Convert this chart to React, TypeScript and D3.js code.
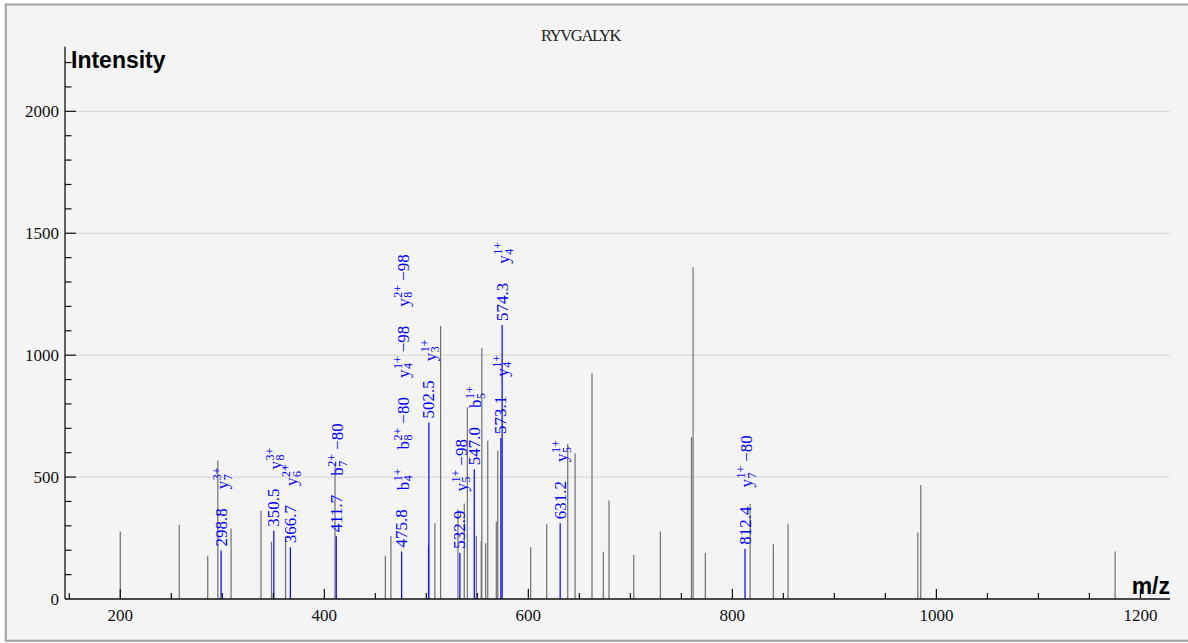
import React, { useEffect, useRef } from 'react';
import * as d3 from 'd3';

// ---------- data ----------
const TITLE = 'RYVGALYK';
const X_LABEL = 'm/z';
const Y_LABEL = 'Intensity';

const X_MAJOR_TICKS = [200, 400, 600, 800, 1000, 1200];
const X_MINOR_STEP = 50;
const Y_MAJOR_TICKS = [0, 500, 1000, 1500, 2000];
const Y_MINOR_STEP = 100;

// unannotated peaks
const PEAK_MZ = [
  200.0, 257.8, 285.7, 295.6, 308.6, 337.9, 348.2, 362.0, 410.5, 459.8, 465.3,
  502.1, 508.4, 514.0, 531.0, 537.2, 540.2, 549.0, 553.8, 554.4, 558.2, 560.2,
  568.6, 570.0, 602.3, 618.0, 638.6, 645.8, 662.4, 673.5, 679.1, 703.3, 729.4,
  759.9, 761.5, 773.5, 817.4, 840.2, 854.6, 981.8, 984.7, 1175.2,
];
const PEAK_INT = [
  277, 305, 177, 568, 289, 362, 235, 254, 557, 177, 258,
  222, 311, 1120, 368, 392, 786, 259, 236, 1029, 229, 649,
  318, 608, 212, 307, 636, 598, 926, 194, 404, 180, 277,
  664, 1361, 190, 391, 225, 309, 273, 468, 195,
];

// annotated peaks
const ANNOT_MZ = [298.8, 350.5, 366.7, 411.7, 475.8, 502.5, 532.9, 547.0, 573.1, 574.3, 631.2, 812.4];
const ANNOT_INT = [199, 280, 212, 257, 195, 724, 190, 532, 660, 1124, 311, 206];
const ANNOT_LABEL = ['298.8', '350.5', '366.7', '411.7', '475.8', '502.5', '532.9', '547.0', '573.1', '574.3', '631.2', '812.4'];
// ion annotations: [ion, subscript, superscript, loss]
const ANNOT_IONS: string[][][] = [
  [['y', '7', '3+', '']],
  [['y', '8', '3+', '']],
  [['y', '6', '2+', '']],
  [['b', '7', '2+', '\u221280']],
  [['b', '4', '1+', ''], ['b', '8', '2+', '\u221280'], ['y', '4', '1+', '\u221298'], ['y', '8', '2+', '\u221298']],
  [['y', '3', '1+', '']],
  [['y', '5', '1+', '\u221298']],
  [['b', '5', '1+', '']],
  [['y', '4', '1+', '']],
  [['y', '4', '1+', '']],
  [['y', '5', '1+', '']],
  [['y', '7', '1+', '\u221280']],
];

const W = 1188;
const H = 643;

export default function App() {
  const ref = useRef<SVGSVGElement | null>(null);

  useEffect(() => {
    const svg = d3.select(ref.current);
    svg.selectAll('*').remove();

    const left = 65, right = 1170, base = 599, top = 46.7;
    const x = d3.scaleLinear().domain([145.8, 1229]).range([left, right]);
    const y = d3.scaleLinear().domain([0, 2265]).range([base, top]);

    // frame
    svg.append('rect').attr('width', W).attr('height', H).attr('fill', '#ffffff');
    svg.append('rect')
      .attr('x', 5.8).attr('y', 4.5).attr('width', 1210).attr('height', 636.3)
      .attr('fill', '#f4f4f4').attr('stroke', '#a8a8a8').attr('stroke-width', 2.2);

    // gridlines
    svg.append('g').selectAll('line').data(Y_MAJOR_TICKS.filter(d => d > 0)).join('line')
      .attr('x1', left).attr('x2', right)
      .attr('y1', d => y(d)).attr('y2', d => y(d))
      .attr('stroke', '#d6d6d6').attr('stroke-width', 1);

    // title
    svg.append('text').attr('x', 541).attr('y', 40.5)
      .attr('font-family', '"Liberation Serif", "Times New Roman", serif').attr('font-size', 16.5)
      .attr('textLength', 80.5).attr('lengthAdjust', 'spacing')
      .attr('fill', '#222').text(TITLE);

    // peaks
    svg.append('g').selectAll('line').data(PEAK_MZ).join('line')
      .attr('x1', d => x(d)).attr('x2', d => x(d))
      .attr('y1', base).attr('y2', (d, i) => y(PEAK_INT[i]))
      .attr('stroke', '#707070').attr('stroke-width', 1.2);

    svg.append('g').selectAll('line').data(ANNOT_MZ).join('line')
      .attr('x1', d => x(d)).attr('x2', d => x(d))
      .attr('y1', base).attr('y2', (d, i) => y(ANNOT_INT[i]))
      .attr('stroke', '#0000ff').attr('stroke-width', 1.2);

    // axes
    const axis = svg.append('g');
    axis.append('line').attr('x1', left).attr('x2', right).attr('y1', base).attr('y2', base)
      .attr('stroke', '#111').attr('stroke-width', 1.3);
    axis.append('line').attr('x1', left).attr('x2', left).attr('y1', base).attr('y2', top)
      .attr('stroke', '#111').attr('stroke-width', 1.3);

    const xMinor = d3.range(150, 1201, X_MINOR_STEP).filter(v => !X_MAJOR_TICKS.includes(v));
    axis.selectAll('.xmin').data(xMinor).join('line')
      .attr('x1', d => x(d)).attr('x2', d => x(d)).attr('y1', base).attr('y2', base - 6)
      .attr('stroke', '#111').attr('stroke-width', 1.2);
    axis.selectAll('.xmaj').data(X_MAJOR_TICKS).join('line')
      .attr('x1', d => x(d)).attr('x2', d => x(d)).attr('y1', base).attr('y2', base - 10)
      .attr('stroke', '#111').attr('stroke-width', 1.2);
    axis.selectAll('.xlab').data(X_MAJOR_TICKS).join('text')
      .attr('x', d => x(d)).attr('y', 620.5).attr('text-anchor', 'middle')
      .attr('font-family', '"Liberation Serif", serif').attr('font-size', 17).attr('fill', '#111')
      .text(d => String(d));

    const yMinor = d3.range(100, 2201, Y_MINOR_STEP).filter(v => !Y_MAJOR_TICKS.includes(v));
    axis.selectAll('.ymin').data(yMinor).join('line')
      .attr('x1', left).attr('x2', left + 6.5).attr('y1', d => y(d)).attr('y2', d => y(d))
      .attr('stroke', '#111').attr('stroke-width', 1.2);
    axis.selectAll('.ymaj').data(Y_MAJOR_TICKS.filter(d => d > 0)).join('line')
      .attr('x1', left).attr('x2', left + 11).attr('y1', d => y(d)).attr('y2', d => y(d))
      .attr('stroke', '#111').attr('stroke-width', 1.2);
    axis.selectAll('.ylab').data(Y_MAJOR_TICKS).join('text')
      .attr('x', 59).attr('y', d => y(d)).attr('dy', '0.35em').attr('text-anchor', 'end')
      .attr('font-family', '"Liberation Serif", serif').attr('font-size', 17).attr('fill', '#111')
      .text(d => String(d));

    // axis titles
    svg.append('text').attr('x', 71).attr('y', 68).attr('font-family', '"Liberation Sans", Arial, sans-serif')
      .attr('font-weight', 'bold').attr('font-size', 23).attr('fill', '#000').text(Y_LABEL);
    svg.append('text').attr('x', right).attr('y', 594).attr('text-anchor', 'end')
      .attr('font-family', '"Liberation Sans", Arial, sans-serif')
      .attr('font-weight', 'bold').attr('font-size', 23).attr('fill', '#000').text(X_LABEL);

    // annotations
    const GAP = 19;
    const serif = '"Liberation Serif", "Times New Roman", serif';
    const blue = '#0000ff';
    const ann = svg.append('g').attr('fill', blue).attr('font-family', serif);
    ANNOT_MZ.forEach((mz, i) => {
      const x0 = x(mz);
      const y0 = y(ANNOT_INT[i]) - 4;
      const num = ann.append('text')
        .attr('transform', `translate(${x0 + 5.5},${y0}) rotate(-90)`)
        .attr('font-size', 17).text(ANNOT_LABEL[i]);
      const L = (num.node() as SVGTextElement).getComputedTextLength();
      let cur = y0 - L - GAP;
      ANNOT_IONS[i].forEach(([ion, sub, sup, loss]) => {
        const g = ann.append('g').attr('transform', `translate(${x0 + 7},${cur}) rotate(-90)`);
        const m = g.append('text').attr('font-size', 17).text(ion);
        const wm = (m.node() as SVGTextElement).getComputedTextLength();
        const s1 = g.append('text').attr('x', wm + 0.5).attr('y', 3.5).attr('font-size', 12).text(sub);
        const s2 = g.append('text').attr('x', wm + 0.5).attr('y', -7).attr('font-size', 12).text(sup);
        const ws = Math.max(
          (s1.node() as SVGTextElement).getComputedTextLength(),
          (s2.node() as SVGTextElement).getComputedTextLength(),
        );
        let total = wm + 0.5 + ws;
        if (loss) {
          const l = g.append('text').attr('x', total + 4).attr('font-size', 17).text(loss);
          total += 4 + (l.node() as SVGTextElement).getComputedTextLength();
        }
        cur -= total + GAP;
      });
    });
  }, []);

  return (
    <svg
      ref={ref}
      width={W}
      height={H}
      style={{ position: 'absolute', left: 0, top: 0, display: 'block' }}
    />
  );
}
